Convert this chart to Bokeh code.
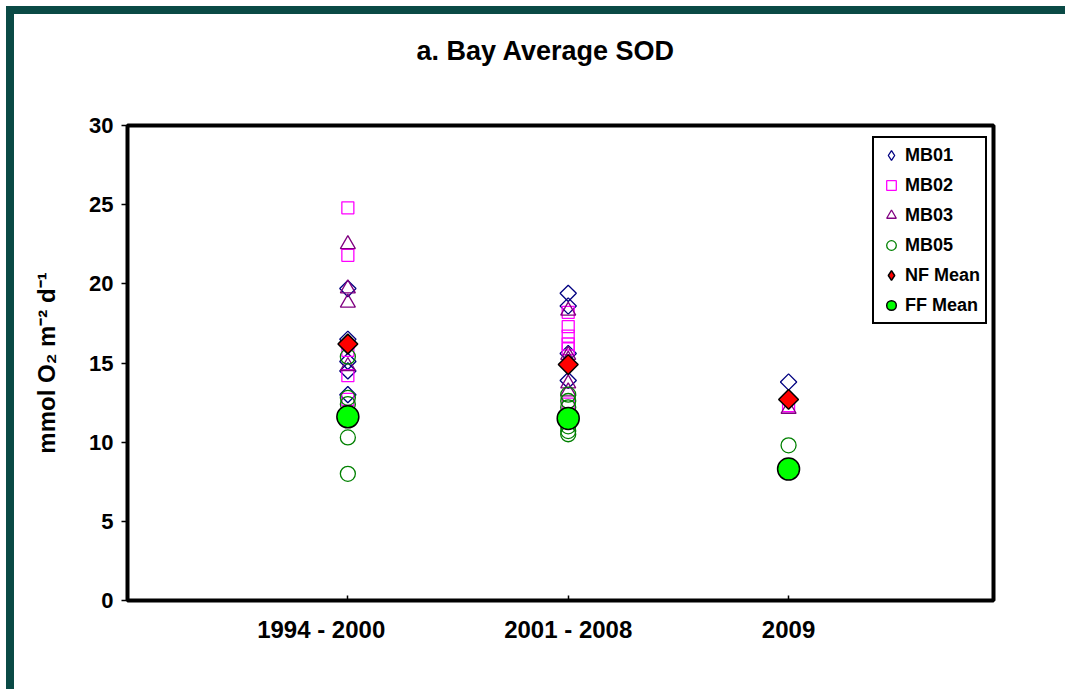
import math

from bokeh.embed import file_html
from bokeh.models import FixedTicker, Legend, LegendItem, Title
from bokeh.plotting import figure
from bokeh.resources import INLINE

# Sampling periods on the x axis
periods = ["1994 - 2000", "2001 - 2008", "2009"]
period_x = [1, 2, 3]

# Sediment oxygen demand per station, one list per period (mmol O2 m-2 d-1)
mb01 = [[19.7, 16.5, 15.1, 14.5, 13.0], [19.4, 18.6, 15.6, 13.9], [13.8]]
mb02 = [[24.8, 21.8, 15.8, 14.2, 12.7], [18.2, 17.3, 16.7, 16.2, 15.9, 12.4], [12.3]]
mb03 = [[22.5, 19.7, 18.8, 14.8], [18.3, 15.5, 15.2, 13.7, 13.2], [12.1]]
mb05 = [[15.4, 12.8, 12.4, 10.3, 8.0], [13.0, 12.6, 12.2, 11.0, 10.7, 10.5], [9.8]]

# Near-field and far-field means per period
nf_mean = [16.2, 14.9, 12.7]
ff_mean = [11.6, 11.5, 8.3]

y_ticks = [0, 5, 10, 15, 20, 25, 30]

FONT = "Liberation Sans"
TEAL = "#0a4a45"


def flatten(groups):
    xs, ys = [], []
    for x, vals in zip(period_x, groups):
        xs.extend([x] * len(vals))
        ys.extend(vals)
    return xs, ys


W, H = 1051, 675
p = figure(
    width=W, height=H,
    x_range=(0, 3.93), y_range=(0, 30),
    output_backend="svg", toolbar_location=None,
    min_border_left=113, min_border_right=80,
    min_border_top=111, min_border_bottom=97,
    background_fill_color="white", border_fill_color="white",
)
# slide-style frame: teal rule along the top and left edges
p.styles = {
    "box-sizing": "content-box",
    "margin-left": "6px", "margin-top": "6px",
    "border-left": f"8px solid {TEAL}", "border-top": f"8px solid {TEAL}",
}

# chart title, with an empty spacer title between it and the plot area
spacer = Title(text=" ", text_font_size="1px", standoff=52)
main_title = Title(
    text="a. Bay Average SOD", align="left", offset=289,
    text_font=FONT, text_font_size="27px", text_font_style="bold",
    text_color="black", standoff=10,
)
p.above = [spacer, main_title]

p.grid.visible = False
p.outline_line_color = "black"
p.outline_line_width = 4

# y axis
ya = p.yaxis[0]
ya.ticker = FixedTicker(ticks=y_ticks)
ya.minor_tick_line_color = None
ya.major_tick_in = 0
ya.major_tick_out = 6
ya.major_tick_line_width = 1.5
ya.axis_line_color = None
ya.major_label_standoff = 8
ya.major_label_text_font = FONT
ya.major_label_text_font_size = "22px"
ya.major_label_text_font_style = "bold"
ya.major_label_text_color = "black"
ya.axis_label = "mmol O\u2082 m\u207b\u00b2 d\u207b\u00b9"
ya.axis_label_text_font = FONT
ya.axis_label_text_font_size = "24px"
ya.axis_label_text_font_style = "bold"
ya.axis_label_text_color = "black"
ya.axis_label_standoff = 26

# x axis
xa = p.xaxis[0]
xa.ticker = FixedTicker(ticks=period_x)
xa.major_label_overrides = {
    1: periods[0] + "\u00a0" * 8,
    2: periods[1],
    3: periods[2],
}
xa.minor_tick_line_color = None
xa.major_tick_in = 5
xa.major_tick_out = 0
xa.major_tick_line_width = 1.5
xa.axis_line_color = None
xa.major_label_standoff = 15
xa.major_label_text_font = FONT
xa.major_label_text_font_size = "24px"
xa.major_label_text_font_style = "bold"
xa.major_label_text_color = "black"

# station series
x1, y1 = flatten(mb01)
x2, y2 = flatten(mb02)
x3, y3 = flatten(mb03)
x5, y5 = flatten(mb05)

MB01_STYLE = dict(fill_color=None, line_color="#000080", line_width=1.3)
NF_STYLE = dict(fill_color="#ff0000", line_color="black", line_width=1.5)

r1 = p.scatter(x1, y1, marker="square", angle=math.pi / 4, size=11.5, **MB01_STYLE)
r2 = p.scatter(x2, y2, marker="square", size=12,
               fill_color=None, line_color="#ff00ff", line_width=1.3)
r3 = p.scatter(x3, y3, marker="triangle", size=15,
               fill_color=None, line_color="#800080", line_width=1.3)
r5 = p.scatter(x5, y5, marker="circle", size=15,
               fill_color=None, line_color="#008000", line_width=1.3)
rn = p.scatter(period_x, nf_mean, marker="square", angle=math.pi / 4, size=14, **NF_STYLE)
rf = p.scatter(period_x, ff_mean, marker="circle", size=22,
               fill_color="#00ff00", line_color="black", line_width=1.5)

# diamond swatches for the legend (legend glyphs are drawn unrotated);
# zero-size in the plot, the legend sizes its glyphs from the swatch box
k1 = p.scatter(x1, y1, marker="diamond", size=0, **MB01_STYLE)
kn = p.scatter(period_x, nf_mean, marker="diamond", size=0, **NF_STYLE)

legend = Legend(
    items=[
        LegendItem(label="MB01", renderers=[k1]),
        LegendItem(label="MB02", renderers=[r2]),
        LegendItem(label="MB03", renderers=[r3]),
        LegendItem(label="MB05", renderers=[r5]),
        LegendItem(label="NF Mean", renderers=[kn]),
        LegendItem(label="FF Mean", renderers=[rf]),
    ],
    location=(745, 276),
    glyph_width=24, glyph_height=24,
    spacing=6, padding=5, margin=0,
    label_standoff=2,
    label_text_font=FONT, label_text_font_size="18px",
    label_text_font_style="bold", label_text_color="black",
    border_line_color="black", border_line_width=2, border_line_alpha=1,
    background_fill_color="white", background_fill_alpha=1,
)
p.add_layout(legend)

open("out.html", "w").write(file_html(p, INLINE))
